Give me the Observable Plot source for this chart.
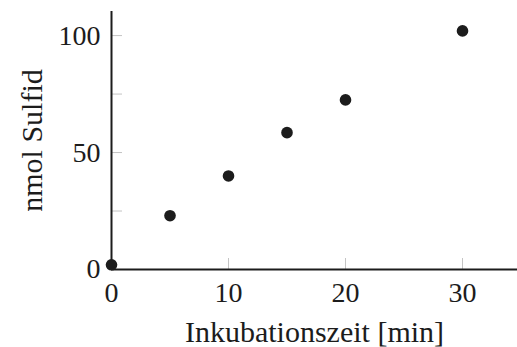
<!DOCTYPE html>
<html>
<head>
<meta charset="utf-8">
<script src="https://cdn.jsdelivr.net/npm/d3@7"></script>
<script src="https://cdn.jsdelivr.net/npm/@observablehq/plot@0.6"></script>
<style>
  html, body { margin: 0; padding: 0; background: #fff; }
  #chart svg { display: block; }
</style>
</head>
<body>
<div id="chart"></div>
<script>
// Data
const zeit = [0, 5, 10, 15, 20, 30];            // Inkubationszeit [min]
const sulfid = [2, 23, 40, 58.5, 72.5, 102];     // nmol Sulfid
const xTickLabels = [0, 10, 20, 30];
const xTickMarks = [10, 20, 30];
const yTickLabels = [0, 50, 100];
const yTickMarks = [25, 50, 75, 100];
const xLabel = "Inkubationszeit [min]";
const yLabel = "nmol Sulfid";

const data = zeit.map((z, i) => ({zeit: z, sulfid: sulfid[i]}));

const W = 517, H = 347;
const mL = 111, mR = 0, mT = 11, mB = 78;
const plotW = W - mL - mR, plotH = H - mT - mB;
const ink = "#1c1c1c";
const serif = "Liberation Serif, serif";

const chart = Plot.plot({
  width: W,
  height: H,
  marginLeft: mL,
  marginRight: mR,
  marginTop: mT,
  marginBottom: mB,
  style: {fontFamily: serif, fontSize: "28px", color: ink, background: "#fff"},
  x: {domain: [0, 34.7]},
  y: {domain: [0, 110.3]},
  marks: [
    // inward light-grey tick marks
    Plot.tickX(xTickMarks, {x: d => d, stroke: "#c4c4c4", strokeWidth: 1, insetTop: plotH - 11}),
    Plot.tickY(yTickMarks, {y: d => d, stroke: "#c4c4c4", strokeWidth: 1, insetRight: plotW - 11}),
    // tick labels
    Plot.axisX({ticks: xTickLabels, tickSize: 0, tickPadding: 13, label: null, fontSize: 28, fontFamily: serif}),
    Plot.axisY({ticks: yTickLabels, tickSize: 0, tickPadding: 11, label: null, fontSize: 28, fontFamily: serif}),
    // axis lines
    Plot.ruleX([0], {stroke: ink, strokeWidth: 2}),
    Plot.ruleY([0], {stroke: ink, strokeWidth: 2}),
    // axis titles
    Plot.text([xLabel], {frameAnchor: "bottom", text: d => d, textAnchor: "middle", lineAnchor: "bottom", dy: 72, fontSize: 30, fontFamily: serif, fill: ink}),
    Plot.text([yLabel], {frameAnchor: "left", text: d => d, rotate: -90, textAnchor: "middle", lineAnchor: "middle", dx: -79, fontSize: 30, fontFamily: serif, fill: ink}),
    // data points
    Plot.dot(data, {x: "zeit", y: "sulfid", r: 5.8, fill: ink, stroke: "none"})
  ]
});
document.getElementById("chart").appendChild(chart);
</script>
</body>
</html>
